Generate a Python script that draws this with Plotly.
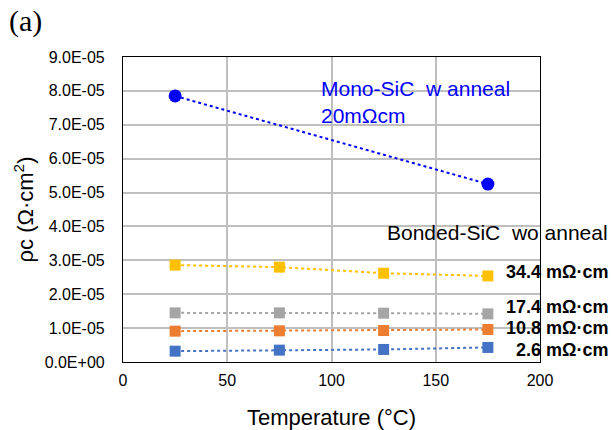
import plotly.graph_objects as go

temps = [25, 75, 125, 175]
mono_temps = [25, 175]
mono_pc = [7.85e-5, 5.25e-5]
pc_34_4 = [2.86e-5, 2.80e-5, 2.62e-5, 2.54e-5]
pc_17_4 = [1.45e-5, 1.45e-5, 1.44e-5, 1.42e-5]
pc_10_8 = [0.91e-5, 0.92e-5, 0.93e-5, 0.96e-5]
pc_2_6 = [0.32e-5, 0.35e-5, 0.37e-5, 0.43e-5]

series = [
    ("34.4 mΩ·cm", pc_34_4, "#FFC000", 2.65e-5),
    ("17.4 mΩ·cm", pc_17_4, "#A5A5A5", 1.62e-5),
    ("10.8 mΩ·cm", pc_10_8, "#ED7D31", 1.00e-5),
    ("2.6 mΩ·cm", pc_2_6, "#4472C4", 0.35e-5),
]

y_tickvals = [i * 1e-5 for i in range(10)]
y_ticktext = ["0.0E+00", "1.0E-05", "2.0E-05", "3.0E-05", "4.0E-05",
              "5.0E-05", "6.0E-05", "7.0E-05", "8.0E-05", "9.0E-05"]

fig = go.Figure()
fig.add_trace(go.Scatter(x=mono_temps, y=mono_pc, mode="lines+markers",
                         line=dict(color="#0000FF", width=2, dash="dot"),
                         marker=dict(symbol="circle", size=13, color="#0000FF"),
                         showlegend=False))
for name, vals, color, ly in series:
    fig.add_trace(go.Scatter(x=temps, y=vals, mode="lines+markers",
                             line=dict(color=color, width=2, dash="dot"),
                             marker=dict(symbol="square", size=11, color=color),
                             showlegend=False))

L, T = 123, 57
PW, PH = 417, 305
annotations = []
for name, vals, color, ly in series:
    annotations.append(dict(x=(610 - L) / PW, xref="paper", y=ly, yref="y", text="<b>" + name + "</b>",
                            showarrow=False, xanchor="right", yanchor="middle",
                            font=dict(family="Arial", size=18, color="black")))
annotations.append(dict(x=(610 - L) / PW, xref="paper", y=(362 - 232) / PH, yref="paper",
                        text="Bonded-SiC  wo anneal",
                        showarrow=False, xanchor="right", yanchor="middle",
                        font=dict(family="Arial", size=21, color="black")))
annotations.append(dict(x=(319 - L) / PW, xref="paper", y=(362 - 75) / PH, yref="paper",
                        text="Mono-SiC  w anneal<br>20mΩcm", align="left",
                        showarrow=False, xanchor="left", yanchor="top",
                        font=dict(family="Arial", size=21, color="#0000FF")))
annotations.append(dict(x=(7 - L) / PW, xref="paper", y=1 + (T - 21) / PH, yref="paper", text="(a)",
                        showarrow=False, xanchor="left", yanchor="middle",
                        font=dict(family="Times New Roman, Liberation Serif", size=30, color="black")))

fig.update_layout(
    width=611, height=430,
    margin=dict(l=L, r=611 - L - PW, t=T, b=430 - T - PH, autoexpand=False),
    paper_bgcolor="white", plot_bgcolor="white",
    font=dict(family="Arial", size=16, color="black"),
    annotations=annotations,
    xaxis=dict(range=[0, 200], dtick=50, tick0=0, showgrid=True, gridcolor="#BFBFBF", gridwidth=1.5,
               showline=True, linecolor="black", linewidth=1.2, mirror=True, zeroline=False,
               ticks="", tickfont=dict(size=16), automargin=False, ticklabelstandoff=4,
               title=dict(text="Temperature (°C)", font=dict(size=22), standoff=24)),
    yaxis=dict(range=[0, 9e-5], tickvals=y_tickvals, ticktext=y_ticktext,
               showgrid=True, gridcolor="#BFBFBF", gridwidth=1.5,
               showline=True, linecolor="black", linewidth=1.2, mirror=True, zeroline=False,
               ticks="", tickfont=dict(size=16), automargin=False, ticklabelstandoff=14,
               title=dict(text="ρc (Ω·cm<sup>2</sup>)", font=dict(size=22), standoff=4)),
)

fig.write_html("out.html", config={"displayModeBar": False},
               post_script="document.body.style.margin='0';document.body.style.overflow='hidden';")
